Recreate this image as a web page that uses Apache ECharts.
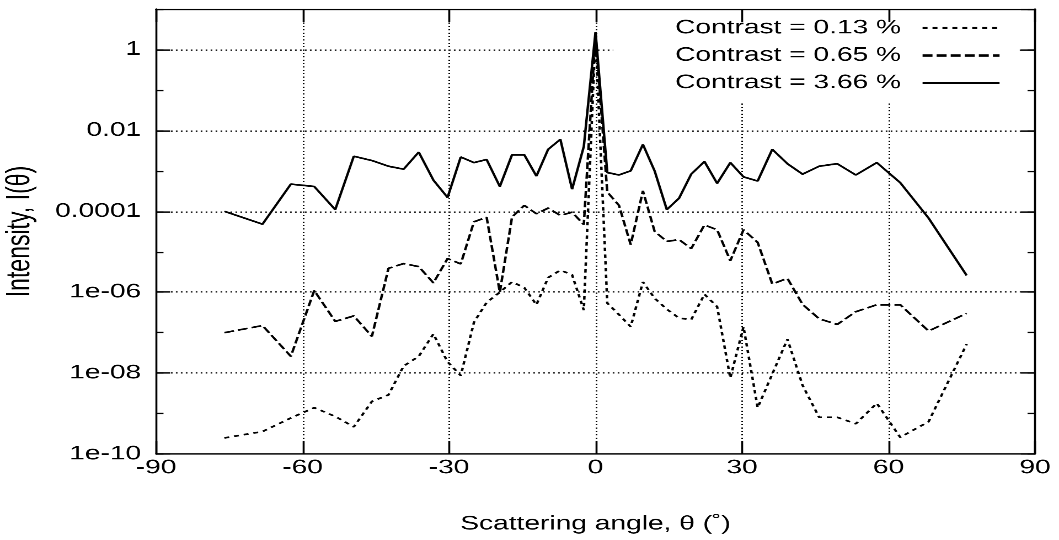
<!DOCTYPE html>
<html><head><meta charset="utf-8">
<script src="https://cdn.jsdelivr.net/npm/echarts@6/dist/echarts.min.js"></script>
<style>
html,body{margin:0;padding:0;background:#fff;overflow:hidden;width:1059px;height:540px}
#wrap{width:1059px;height:540px;overflow:hidden;position:relative}
#c{width:640px;height:480px;transform:scale(1.6546875,1.125);transform-origin:0 0;position:absolute;left:0;top:0}
</style></head><body><div id="wrap"><div id="c"></div></div>
<script>
// Scattering angle (degrees)
const angles = [-76.0, -68.2, -62.4, -57.6, -53.3, -49.5, -45.8, -42.4, -39.3, -36.2, -33.2, -30.3, -27.6, -24.9, -22.3, -19.6, -17.1, -14.6, -12.1, -9.7, -7.2, -4.8, -2.4, 0, 2.4, 4.8, 7.2, 9.7, 12.1, 14.6, 17.1, 19.6, 22.3, 24.9, 27.6, 30.3, 33.2, 36.2, 39.3, 42.4, 45.8, 49.5, 53.3, 57.6, 62.4, 68.2, 76.0];
// Intensity I(theta) for each contrast
const contrast013 = [2.5e-10, 3.6e-10, 7.8e-10, 1.4e-9, 8.5e-10, 4.7e-10, 2.0e-9, 2.9e-9, 1.5e-8, 2.6e-8, 9.3e-8, 1.9e-8, 8.7e-9, 1.8e-7, 5.6e-7, 1.0e-6, 1.8e-6, 1.3e-6, 4.9e-7, 2.3e-6, 3.5e-6, 2.7e-6, 3.6e-7, 2.4, 5.4e-7, 2.8e-7, 1.4e-7, 1.8e-6, 7.1e-7, 3.8e-7, 2.3e-7, 2.1e-7, 8.9e-7, 4.4e-7, 7.6e-9, 1.4e-7, 1.4e-9, 9.5e-9, 6.9e-8, 5.0e-9, 8.1e-10, 8.1e-10, 5.6e-10, 1.8e-9, 2.6e-10, 6.3e-10, 5.2e-8];
const contrast065 = [1.0e-7, 1.5e-7, 2.6e-8, 1.1e-6, 1.9e-7, 2.6e-7, 8.1e-8, 3.9e-6, 5.1e-6, 4.3e-6, 1.7e-6, 6.8e-6, 5.0e-6, 5.5e-5, 7.1e-5, 1.0e-6, 7.2e-5, 1.4e-4, 8.7e-5, 1.2e-4, 7.9e-5, 9.5e-5, 4.7e-5, 2.5, 3.0e-4, 1.4e-4, 1.5e-5, 3.2e-4, 3.2e-5, 1.8e-5, 2.0e-5, 1.2e-5, 4.6e-5, 3.5e-5, 6.0e-6, 3.5e-5, 1.7e-5, 1.6e-6, 2.2e-6, 5.0e-7, 2.2e-7, 1.6e-7, 3.3e-7, 4.9e-7, 4.9e-7, 1.1e-7, 3.0e-7];
const contrast366 = [1.0e-4, 4.8e-5, 4.7e-4, 4.1e-4, 1.1e-4, 2.3e-3, 1.8e-3, 1.3e-3, 1.1e-3, 2.9e-3, 5.9e-4, 2.2e-4, 2.2e-3, 1.6e-3, 1.9e-3, 4.1e-4, 2.5e-3, 2.5e-3, 7.4e-4, 3.4e-3, 6.0e-3, 3.5e-4, 4.0e-3, 2.7, 9.1e-4, 7.9e-4, 1.0e-3, 4.5e-3, 1.0e-3, 1.1e-4, 2.1e-4, 8.3e-4, 1.7e-3, 4.9e-4, 1.6e-3, 7.1e-4, 5.6e-4, 3.4e-3, 1.5e-3, 8.3e-4, 1.3e-3, 1.5e-3, 7.9e-4, 1.6e-3, 5.1e-4, 6.8e-5, 2.6e-6];
const seriesNames = ['Contrast = 0.13 %', 'Contrast = 0.65 %', 'Contrast = 3.66 %'];
const xTickValues = [-90, -60, -30, 0, 30, 60, 90];
const yTickValues = [1e-10, 1e-8, 1e-6, 1e-4, 1e-2, 1];
const yTickLabels = ['1e-10', '1e-08', '1e-06', '0.0001', '0.01', '1'];
const xTitle = 'Scattering angle, \u03b8 (\u02da)';
const yTitle = 'Intensity, I(\u03b8)';

const FONT = 'Liberation Sans, Arial, Helvetica, sans-serif';
const FS = 17;
const chart = echarts.init(document.getElementById('c'), null, {devicePixelRatio: 3});
const pairs = arr => angles.map((a, i) => [a, arr[i]]);
function yLabel(v) {
  for (let i = 0; i < yTickValues.length; i++) {
    if (Math.abs(Math.log10(v) - Math.log10(yTickValues[i])) < 1e-6) return yTickLabels[i];
  }
  return '';
}
function xLabel(v) {
  const i = xTickValues.indexOf(Math.round(v));
  return i >= 0 ? String(xTickValues[i]) : '';
}
const gridPos = {left: 94.3, right: 14.5, top: 8, bottom: 76.4, containLabel: false, outerBoundsMode: 'none'};
const black = '#000';
const tickStyle = {color: black, width: 1.2};
const dotGrid = {show: true, lineStyle: {color: black, type: [1, 2], width: 1}};
const LW = 1.5;

const option = {
  animation: false,
  backgroundColor: '#fff',
  textStyle: {fontFamily: FONT},
  grid: [Object.assign({}, gridPos), Object.assign({}, gridPos)],
  legend: {
    orient: 'vertical', left: 370.5, top: 8, align: 'right',
    itemWidth: 46.5, itemHeight: 12, itemGap: 7.4,
    padding: [8.4, 11, 9.2, 37.5],
    backgroundColor: '#fff',
    itemStyle: {opacity: 0},
    textStyle: {fontSize: FS, color: black, fontFamily: FONT, padding: [0, 8, 0, 0]},
    data: seriesNames
  },
  xAxis: [
    {gridIndex: 0, type: 'value', position: 'bottom', min: -90, max: 90, interval: 30,
     axisLine: {onZero: false, lineStyle: tickStyle}, axisTick: {inside: true, length: 11.5, lineStyle: tickStyle},
     axisLabel: {color: black, fontSize: FS, fontFamily: FONT, margin: 4, formatter: xLabel},
     splitLine: dotGrid,
     name: xTitle, nameLocation: 'middle', nameGap: 54,
     nameTextStyle: {color: black, fontSize: FS, fontFamily: FONT}},
    {gridIndex: 0, type: 'value', position: 'top', min: -90, max: 90, interval: 30, z: 5,
     axisLine: {onZero: false, lineStyle: tickStyle}, axisTick: {inside: true, length: 11.5, lineStyle: tickStyle},
     axisLabel: {show: false}, splitLine: {show: false}},
    {gridIndex: 1, type: 'value', min: -90, max: 90, show: false}
  ],
  yAxis: [
    {gridIndex: 0, type: 'log', logBase: 10, position: 'left', min: 1e-10, max: 10, interval: 2,
     axisLine: {onZero: false, lineStyle: tickStyle}, axisTick: {inside: true, length: 8.5, lineStyle: tickStyle},
     axisLabel: {color: black, fontSize: FS, fontFamily: FONT, margin: 9, showMaxLabel: false, formatter: yLabel},
     splitLine: dotGrid,
     name: yTitle, nameLocation: 'middle', nameGap: 69,
     nameTextStyle: {color: black, fontSize: 20.5, fontFamily: FONT}},
    {gridIndex: 0, type: 'log', logBase: 10, position: 'right', min: 1e-10, max: 10, interval: 2, z: 5,
     axisLine: {onZero: false, lineStyle: tickStyle}, axisTick: {inside: true, length: 8.5, lineStyle: tickStyle},
     axisLabel: {show: false}, splitLine: {show: false}},
    {gridIndex: 1, type: 'log', logBase: 10, position: 'left', min: 1e-10, max: 10, interval: 1,
     axisLine: {show: false, onZero: false}, axisTick: {inside: true, length: 4.5, lineStyle: tickStyle},
     axisLabel: {show: false}, splitLine: {show: false}},
    {gridIndex: 1, type: 'log', logBase: 10, position: 'right', min: 1e-10, max: 10, interval: 1, z: 5,
     axisLine: {show: false, onZero: false}, axisTick: {inside: true, length: 4.5, lineStyle: tickStyle},
     axisLabel: {show: false}, splitLine: {show: false}}
  ],
  series: [
    {name: seriesNames[0], type: 'line', xAxisIndex: 0, yAxisIndex: 0, symbol: 'none', data: pairs(contrast013),
     color: black, lineStyle: {color: black, width: LW, type: [3, 3]}},
    {name: seriesNames[1], type: 'line', xAxisIndex: 0, yAxisIndex: 0, symbol: 'none', data: pairs(contrast065),
     color: black, lineStyle: {color: black, width: LW, type: [6, 2.5]}},
    {name: seriesNames[2], type: 'line', xAxisIndex: 0, yAxisIndex: 0, symbol: 'none', data: pairs(contrast366),
     color: black, lineStyle: {color: black, width: LW, type: 'solid'}},
    {type: 'line', xAxisIndex: 2, yAxisIndex: 2, data: [], silent: true},
    {type: 'line', xAxisIndex: 2, yAxisIndex: 3, data: [], silent: true}
  ]
};
chart.setOption(option);
</script>
</body></html>
